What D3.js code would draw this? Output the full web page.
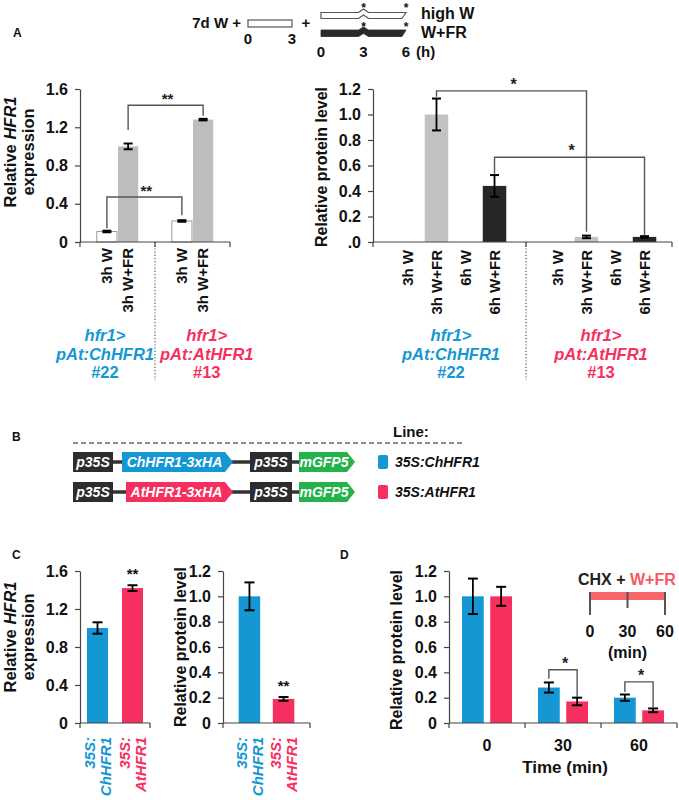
<!DOCTYPE html>
<html><head><meta charset="utf-8">
<script src="https://cdn.jsdelivr.net/npm/d3@7"></script>
<style>
body{margin:0;background:#fff}
svg text{font-family:"Liberation Sans",Arial,Helvetica,sans-serif;font-weight:bold}
</style></head><body>
<svg id="fig" width="679" height="800"></svg>
<script>
// ---------------- DATA ----------------
// Panel A (left): relative HFR1 expression
const aLines = ["ChHFR1 #22", "AtHFR1 #13"];
const aLineLabels = [["hfr1>", "pAt:ChHFR1", "#22"], ["hfr1>", "pAt:AtHFR1", "#13"]];
const aExprConds = ["3h W", "3h W+FR"];
const aExprValues = [[0.11, 1.00], [0.22, 1.28]];
const aExprErrors = [[0.008, 0.03], [0.008, 0.008]];
const aExprTicks = [0, 0.4, 0.8, 1.2, 1.6];
const aExprTickLabels = ["0", "0.4", "0.8", "1.2", "1.6"];
// Panel A (right): relative protein level
const aProtConds = ["3h W", "3h W+FR", "6h W", "6h W+FR"];
const aProtValues = [[0, 1.00, 0, 0.44], [0, 0.04, 0, 0.04]];
const aProtErrors = [[0, 0.125, 0, 0.085], [0, 0.01, 0, 0.006]];
const aProtTicks = [0, 0.2, 0.4, 0.6, 0.8, 1.0, 1.2];
const aProtTickLabels = [".0", "0.2", "0.4", "0.6", "0.8", "1.0", "1.2"];
// Panel C
const cLines = ["35S:ChHFR1", "35S:AtHFR1"];
const cLineLabels = [["35S:", "ChHFR1"], ["35S:", "AtHFR1"]];
const cExprValues = [1.00, 1.42];
const cExprErrors = [0.06, 0.03];
const cProtValues = [1.00, 0.19];
const cProtErrors = [0.11, 0.015];
const cExprTicks = [0, 0.4, 0.8, 1.2, 1.6];
const cExprTickLabels = ["0", "0.4", "0.8", "1.2", "1.6"];
const cProtTicks = [0, 0.2, 0.4, 0.6, 0.8, 1.0, 1.2];
const cProtTickLabels = ["0", "0.2", "0.4", "0.6", "0.8", "1.0", "1.2"];
// Panel D
const dTimes = ["0", "30", "60"];
const dSeries = ["35S:ChHFR1", "35S:AtHFR1"];
const dChValues = [1.00, 0.28, 0.20];
const dChErrors = [0.14, 0.04, 0.025];
const dAtValues = [1.00, 0.17, 0.10];
const dAtErrors = [0.075, 0.03, 0.015];
const dTicks = [0, 0.2, 0.4, 0.6, 0.8, 1.0, 1.2];
const dTickLabels = ["0", "0.2", "0.4", "0.6", "0.8", "1.0", "1.2"];
const dInsetTicks = [0, 30, 60];

// ---------------- STYLE ----------------
const BLUE = "#1597d3", RED = "#f62f5e", GREEN = "#23b24b", DARK = "#2d2d2d";
const AXIS = "#444";
const svg = d3.select("#fig");

function txt(g, x, y, s, o = {}) {
  const t = g.append("text").attr("x", x).attr("y", y).text(s)
    .attr("font-size", o.size || 16).attr("font-weight", o.weight || "bold")
    .attr("text-anchor", o.anchor || "start").attr("fill", o.fill || "#111");
  if (o.italic) t.attr("font-style", "italic");
  return t;
}
function rtxt(g, x, y, s, o = {}) {
  const t = g.append("text").attr("transform", `translate(${x},${y}) rotate(-90)`)
    .attr("dy", o.dy || "0.35em").text(s)
    .attr("font-size", o.size || 16).attr("font-weight", "bold")
    .attr("text-anchor", o.anchor || "middle").attr("fill", o.fill || "#111");
  if (o.italic) t.attr("font-style", "italic");
  return t;
}
function yLabel(g, x, y, parts, size = 16) {
  const t = g.append("text").attr("transform", `translate(${x},${y}) rotate(-90)`)
    .attr("dy", "0.35em").attr("text-anchor", "middle").attr("font-size", size).attr("fill", "#111");
  parts.forEach(p => t.append("tspan").text(p[0]).attr("font-style", p[1] ? "italic" : "normal"));
}
function drawYAxis(g, y, x, ticks, labels, size = 16, pad = 7) {
  const a = g.append("g").attr("transform", `translate(${x},0)`)
    .call(d3.axisLeft(y).tickValues(ticks).tickFormat((d, i) => labels[i]).tickSize(5).tickSizeOuter(0).tickPadding(pad));
  a.select(".domain").attr("stroke", AXIS).attr("stroke-width", 1.2);
  a.selectAll(".tick line").attr("stroke", AXIS).attr("stroke-width", 1.2);
  a.selectAll(".tick text").attr("font-size", size).attr("font-weight", "bold").attr("fill", "#111")
    .attr("font-family", "'Liberation Sans',Arial,sans-serif");
}
function drawXAxis(g, x0, x1, y0, tickXs) {
  g.append("line").attr("x1", x0).attr("x2", x1).attr("y1", y0).attr("y2", y0).attr("stroke", AXIS).attr("stroke-width", 1.2);
  tickXs.forEach(t => g.append("line").attr("x1", t).attr("x2", t).attr("y1", y0).attr("y2", y0 + 5).attr("stroke", AXIS).attr("stroke-width", 1.2));
}
function errBar(g, cx, v, e, y, cap = 4.5) {
  if (v <= 0) return;
  const y1 = y(v + e), y2 = y(v - e);
  g.append("line").attr("x1", cx).attr("x2", cx).attr("y1", y1).attr("y2", y2).attr("stroke", "#000").attr("stroke-width", 1.8);
  [y1, y2].forEach(yy => g.append("line").attr("x1", cx - cap).attr("x2", cx + cap).attr("y1", yy).attr("y2", yy).attr("stroke", "#000").attr("stroke-width", 2));
}
function bracket(g, xa, xb, y, top, endA, endB, label, size = 15) {
  g.append("path").attr("d", `M${xa},${y(endA)}V${y(top)}H${xb}V${y(endB)}`)
    .attr("fill", "none").attr("stroke", "#555").attr("stroke-width", 1.4);
  txt(g, (xa + xb) / 2 + 2, y(top) - 1, label, { size: size, anchor: "middle", weight: "normal", fill: "#222" });
}

// ---------------- TOP SCHEME (A) ----------------
{
  const g = svg.append("g");
  txt(g, 13, 37, "A", { size: 12 });
  const t1 = d3.scaleLinear().domain([0, 3]).range([248, 292]);
  const t2 = d3.scaleLinear().domain([0, 6]).range([321, 406]);
  txt(g, 241, 28, "7d W +", { size: 15, anchor: "end" });
  g.append("rect").attr("x", t1(0)).attr("y", 20).attr("width", t1(3) - t1(0)).attr("height", 7)
    .attr("fill", "#fff").attr("stroke", "#555").attr("stroke-width", 1.2);
  [0, 3].forEach(d => txt(g, t1(d), 44, String(d), { size: 15, anchor: "middle" }));
  txt(g, 306, 28, "+", { size: 15, anchor: "middle" });
  const a = t2(0), m = t2(3), b = t2(6);
  g.append("path").attr("d", `M${a},12.5H${m - 5}L${m},9L${m + 5},12.5H${b}L${b - 4},18.5H${m + 5}L${m},15L${m - 5},18.5H${a}Z`)
    .attr("fill", "#fff").attr("stroke", "#555").attr("stroke-width", 1.2);
  g.append("path").attr("d", `M${a},30H${m - 5}L${m},27L${m + 5},30H${b}L${b - 4},36.5H${m + 5}L${m},33.5L${m - 5},36.5H${a}Z`)
    .attr("fill", "#2a2a2a").attr("stroke", "#2a2a2a").attr("stroke-width", 0.8);
  [3, 6].forEach(d => {
    txt(g, t2(d), 12, "*", { size: 12, anchor: "middle", weight: "normal" });
    txt(g, t2(d), 31, "*", { size: 12, anchor: "middle", weight: "normal" });
  });
  [0, 3, 6].forEach(d => txt(g, t2(d), 57, String(d), { size: 15, anchor: "middle" }));
  txt(g, 416, 57, "(h)", { size: 15 });
  txt(g, 421, 19, "high W", { size: 16 });
  txt(g, 421, 38, "W+FR", { size: 16 });
}

// group labels under A charts
function groupLabels(g, centers, sep, lineColors) {
  const FS = 16.5, LH = 18.5;
  aLineLabels.forEach((lines, i) => {
    const tmp = txt(g, 0, 0, lines[1], { size: FS, italic: true });
    const w = tmp.node().getComputedTextLength(); tmp.remove();
    let cx = centers[i];
    if (i === 0) cx = Math.min(cx, sep - 1 - w / 2); else cx = Math.max(cx, sep + 5 + w / 2);
    lines.forEach((l, k) => txt(g, cx, 341 + k * LH, l, { size: FS, italic: k < 2, anchor: "middle", fill: lineColors[i] }));
  });
}

// ---------------- PANEL A LEFT ----------------
{
  const g = svg.append("g");
  const y = d3.scaleLinear().domain([0, 1.6]).range([242, 89]);
  const x = d3.scaleBand().domain(aLines).range([80, 230]);
  const xi = d3.scaleBand().domain(aExprConds).range([0, x.bandwidth()]).paddingInner(0.05).paddingOuter(0.79);
  const cx = (i, j) => x(aLines[i]) + xi(aExprConds[j]) + xi.bandwidth() / 2;
  aLines.forEach((ln, i) => aExprConds.forEach((c, j) => {
    const v = aExprValues[i][j];
    g.append("rect").attr("x", x(ln) + xi(c)).attr("y", y(v)).attr("width", xi.bandwidth()).attr("height", y(0) - y(v))
      .attr("fill", j === 0 ? "#fff" : "#bdbdbd").attr("stroke", j === 0 ? "#9a9a9a" : "none").attr("stroke-width", 1);
  }));
  const sep = x(aLines[1]);
  g.append("line").attr("x1", sep).attr("x2", sep).attr("y1", 242).attr("y2", 380)
    .attr("stroke", "#555").attr("stroke-dasharray", "1.2,2").attr("stroke-width", 1.2);
  drawXAxis(g, 80, 230, 242, [80, sep, 230]);
  drawYAxis(g, y, 80, aExprTicks, aExprTickLabels);
  aLines.forEach((ln, i) => aExprConds.forEach((c, j) => {
    errBar(g, cx(i, j), aExprValues[i][j], aExprErrors[i][j], y, 4.5);
    rtxt(g, cx(i, j), 248, c, { size: 15, anchor: "end" });
  }));
  bracket(g, cx(0, 1), cx(1, 1), y, 1.43, 1.17, 1.32, "**");
  bracket(g, cx(0, 0), cx(1, 0), y, 0.47, 0.145, 0.28, "**");
  yLabel(g, 10, 152, [["Relative "], ["HFR1", true]], 16.5);
  yLabel(g, 28, 152, [["expression"]], 16.5);
  groupLabels(g, [x(aLines[0]) + x.bandwidth() / 2, x(aLines[1]) + x.bandwidth() / 2], sep, [BLUE, RED]);
}

// ---------------- PANEL A RIGHT ----------------
{
  const g = svg.append("g");
  const y = d3.scaleLinear().domain([0, 1.2]).range([242, 89]);
  const x = d3.scaleBand().domain(aLines).range([376, 676]);
  const xi = d3.scaleBand().domain(aProtConds).range([0, x.bandwidth()]).paddingInner(0.19).paddingOuter(0.68);
  const cx = (i, j) => x(aLines[i]) + xi(aProtConds[j]) + xi.bandwidth() / 2;
  const fills = ["#ffffff", "#c2c2c2", "#ffffff", "#262626"];
  aLines.forEach((ln, i) => aProtConds.forEach((c, j) => {
    const v = aProtValues[i][j];
    if (v > 0) g.append("rect").attr("x", x(ln) + xi(c)).attr("y", y(v)).attr("width", xi.bandwidth()).attr("height", y(0) - y(v)).attr("fill", fills[j]);
  }));
  const sep = x(aLines[1]);
  g.append("line").attr("x1", sep).attr("x2", sep).attr("y1", 242).attr("y2", 380)
    .attr("stroke", "#555").attr("stroke-dasharray", "1.2,2").attr("stroke-width", 1.2);
  drawXAxis(g, 373, 672, 242, [373, sep, 672]);
  drawYAxis(g, y, 373, aProtTicks, aProtTickLabels);
  aLines.forEach((ln, i) => aProtConds.forEach((c, j) => {
    errBar(g, cx(i, j), aProtValues[i][j], aProtErrors[i][j], y, 4.5);
    rtxt(g, cx(i, j), 250, c, { size: 15, anchor: "end" });
  }));
  bracket(g, cx(0, 1), cx(1, 1), y, 1.185, 1.14, 0.08, "*", 16);
  bracket(g, cx(0, 3), cx(1, 3), y, 0.665, 0.535, 0.05, "*", 16);
  yLabel(g, 321, 167, [["Relative protein level"]], 16);
  groupLabels(g, [x(aLines[0]) + x.bandwidth() / 2, x(aLines[1]) + x.bandwidth() / 2], sep, [BLUE, RED]);
}

// ---------------- PANEL B (constructs + legend) ----------------
{
  const g = svg.append("g");
  txt(g, 12, 441, "B", { size: 12 });
  txt(g, 393, 437, "Line:", { size: 15 });
  g.append("line").attr("x1", 73).attr("x2", 463).attr("y1", 443).attr("y2", 443)
    .attr("stroke", "#666").attr("stroke-width", 1.5).attr("stroke-dasharray", "5,3");
  const constructs = [
    [["p35S", "box", 40, DARK], ["", "gap", 9], ["ChHFR1-3xHA", "arrow", 111, BLUE], ["", "gap", 17], ["p35S", "box", 42, DARK], ["", "gap", 7], ["mGFP5", "arrow", 56, GREEN]],
    [["p35S", "box", 40, DARK], ["", "gap", 13], ["AtHFR1-3xHA", "arrow", 107, RED], ["", "gap", 17], ["p35S", "box", 42, DARK], ["", "gap", 7], ["mGFP5", "arrow", 56, GREEN]]
  ];
  constructs.forEach((parts, r) => {
    const y0 = 452 + r * 30, h = 20;
    let xx = 73;
    g.append("line").attr("x1", 73).attr("x2", 350).attr("y1", y0 + h / 2).attr("y2", y0 + h / 2).attr("stroke", "#333").attr("stroke-width", 3.5);
    parts.forEach(p => {
      const [lab, type, w, col] = p;
      if (type === "box") {
        g.append("rect").attr("x", xx).attr("y", y0).attr("width", w).attr("height", h).attr("fill", col);
      } else if (type === "arrow") {
        g.append("path").attr("d", `M${xx},${y0}H${xx + w - 8}L${xx + w},${y0 + h / 2}L${xx + w - 8},${y0 + h}H${xx}Z`).attr("fill", col);
      }
      if (lab) txt(g, xx + (type === "arrow" ? (w - 6) / 2 : w / 2), y0 + 15, lab, { size: 14, italic: true, anchor: "middle", fill: "#fff" });
      xx += w;
    });
  });
  [[cLines[0], BLUE], [cLines[1], RED]].forEach((d, r) => {
    const y0 = 455 + r * 30;
    g.append("rect").attr("x", 378).attr("y", y0).attr("width", 10).attr("height", 14).attr("rx", 2).attr("fill", d[1]);
    txt(g, 395, y0 + 12, d[0], { size: 14, italic: true });
  });
}

// ---------------- PANEL C ----------------
function cLabels(g, centers, top) {
  cLineLabels.forEach((ls, i) => {
    const col = i === 0 ? BLUE : RED;
    rtxt(g, centers[i] - 8, top, ls[0], { size: 15, anchor: "end", italic: true, fill: col });
    rtxt(g, centers[i] + 8, top, ls[1], { size: 15, anchor: "end", italic: true, fill: col });
  });
}
{
  const g = svg.append("g");
  txt(g, 12, 559, "C", { size: 12 });
  const y = d3.scaleLinear().domain([0, 1.6]).range([723, 571]);
  const x = d3.scaleBand().domain(cLines).range([80, 150]).paddingInner(0.4).paddingOuter(0.2);
  cLines.forEach((l, i) => {
    g.append("rect").attr("x", x(l)).attr("y", y(cExprValues[i])).attr("width", x.bandwidth()).attr("height", y(0) - y(cExprValues[i])).attr("fill", i === 0 ? BLUE : RED);
  });
  drawXAxis(g, 80, 150, 723, [80, 150]);
  drawYAxis(g, y, 80, cExprTicks, cExprTickLabels);
  cLines.forEach((l, i) => errBar(g, x(l) + x.bandwidth() / 2, cExprValues[i], cExprErrors[i], y, 5));
  txt(g, x(cLines[1]) + x.bandwidth() / 2, y(cExprValues[1] + cExprErrors[1]) - 6, "**", { size: 15, anchor: "middle", weight: "normal" });
  cLabels(g, cLines.map(l => x(l) + x.bandwidth() / 2), 737);
  yLabel(g, 10, 637, [["Relative "], ["HFR1", true]], 16.5);
  yLabel(g, 28, 637, [["expression"]], 16.5);

  const y2 = d3.scaleLinear().domain([0, 1.2]).range([723, 571]);
  const x2 = d3.scaleBand().domain(cLines).range([223, 310]).paddingInner(0.37).paddingOuter(0.46);
  cLines.forEach((l, i) => {
    g.append("rect").attr("x", x2(l)).attr("y", y2(cProtValues[i])).attr("width", x2.bandwidth()).attr("height", y2(0) - y2(cProtValues[i])).attr("fill", i === 0 ? BLUE : RED);
  });
  drawXAxis(g, 223, 310, 723, [223, 310]);
  drawYAxis(g, y2, 223, cProtTicks, cProtTickLabels);
  cLines.forEach((l, i) => errBar(g, x2(l) + x2.bandwidth() / 2, cProtValues[i], cProtErrors[i], y2, 5));
  txt(g, x2(cLines[1]) + x2.bandwidth() / 2, y2(cProtValues[1] + cProtErrors[1]) - 6, "**", { size: 15, anchor: "middle", weight: "normal" });
  cLabels(g, cLines.map(l => x2(l) + x2.bandwidth() / 2), 737);
  yLabel(g, 180, 647, [["Relative protein level"]], 16);
}

// ---------------- PANEL D ----------------
{
  const g = svg.append("g");
  txt(g, 340, 559, "D", { size: 12 });
  const y = d3.scaleLinear().domain([0, 1.2]).range([723, 571]);
  const x = d3.scaleBand().domain(dTimes).range([449, 677]);
  const xi = d3.scaleBand().domain(dSeries).range([0, x.bandwidth()]).paddingInner(0.23).paddingOuter(0.46);
  const vals = [dChValues, dAtValues], errs = [dChErrors, dAtErrors], cols = [BLUE, RED];
  const cx = (t, s) => x(dTimes[t]) + xi(dSeries[s]) + xi.bandwidth() / 2;
  dTimes.forEach((t, ti) => dSeries.forEach((s, si) => {
    const v = vals[si][ti];
    g.append("rect").attr("x", x(t) + xi(s)).attr("y", y(v)).attr("width", xi.bandwidth()).attr("height", y(0) - y(v)).attr("fill", cols[si]);
  }));
  drawXAxis(g, 449, 677, 723, [449, ...dTimes.slice(1).map(t => x(t)), 677]);
  drawYAxis(g, y, 449, dTicks, dTickLabels);
  dTimes.forEach((t, ti) => dSeries.forEach((s, si) => errBar(g, cx(ti, si), vals[si][ti], errs[si][ti], y, 5)));
  bracket(g, cx(1, 0), cx(1, 1), y, 0.42, 0.35, 0.205, "*", 16);
  bracket(g, cx(2, 0), cx(2, 1), y, 0.325, 0.245, 0.125, "*", 16);
  dTimes.forEach(t => txt(g, x(t) + x.bandwidth() / 2, 751, t, { size: 16, anchor: "middle" }));
  txt(g, 565, 773, "Time (min)", { size: 17, anchor: "middle" });
  yLabel(g, 396, 650, [["Relative protein level"]], 16);
  const ti = d3.scaleLinear().domain([0, 60]).range([590, 665]);
  const ins = g.append("text").attr("x", 578).attr("y", 585).attr("font-size", 16);
  ins.append("tspan").text("CHX + ").attr("fill", "#222");
  ins.append("tspan").text("W+FR").attr("fill", "#f6595f");
  g.append("rect").attr("x", ti(0)).attr("y", 592).attr("width", ti(60) - ti(0)).attr("height", 8).attr("fill", "#f8666a");
  dInsetTicks.forEach(d => {
    g.append("line").attr("x1", ti(d)).attr("x2", ti(d)).attr("y1", 592).attr("y2", d === 30 ? 608 : 615).attr("stroke", "#555").attr("stroke-width", 2);
    txt(g, ti(d), 637, String(d), { size: 16, anchor: "middle" });
  });
  txt(g, ti(30), 658, "(min)", { size: 16, anchor: "middle" });
}
</script>
</body></html>
